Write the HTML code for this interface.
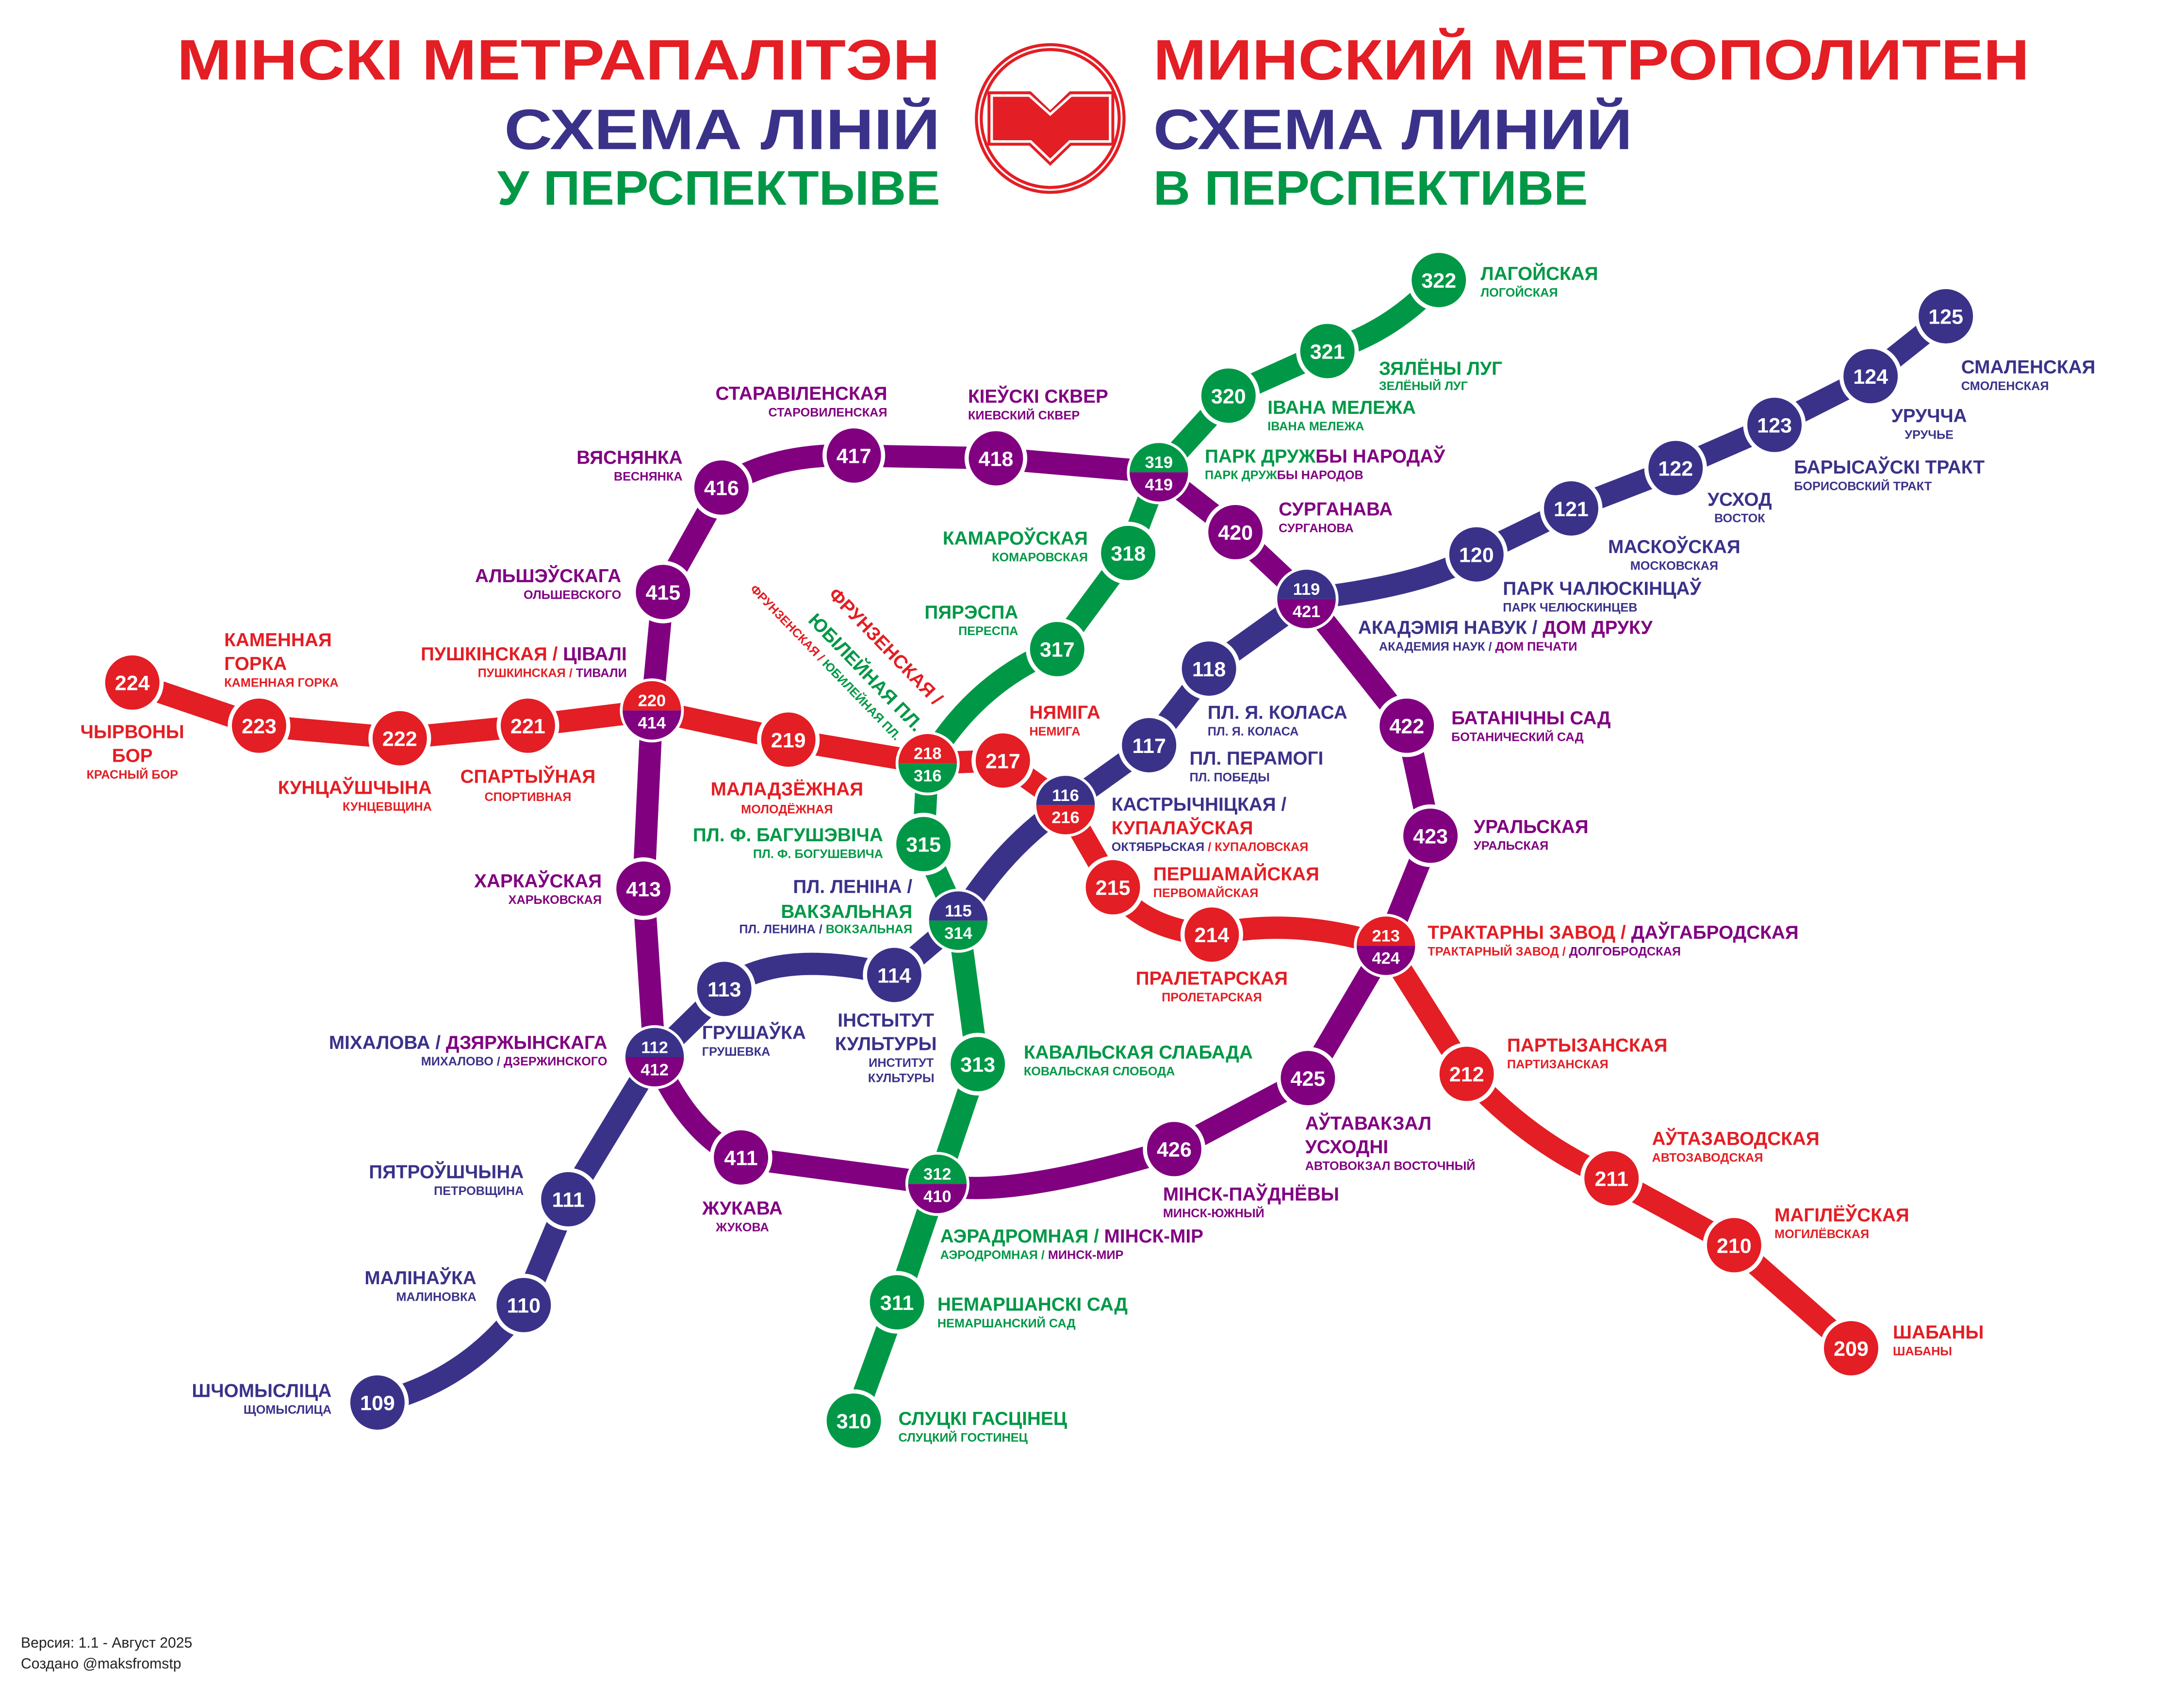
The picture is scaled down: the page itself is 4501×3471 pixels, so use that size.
<!DOCTYPE html>
<html><head><meta charset="utf-8"><style>
html,body{margin:0;padding:0;background:#fff}
svg{display:block}
text{font-family:"Liberation Sans","DejaVu Sans",sans-serif;font-weight:bold}
.n{fill:#fff;text-anchor:middle;font-size:15px}
.d{fill:#fff;text-anchor:middle;font-size:12px}
.m{font-size:13.5px}
.s{font-size:8.8px}
.R{fill:#E31E24}.B{fill:#3A3289}.G{fill:#009846}.P{fill:#800080}
.e{text-anchor:end}.c{text-anchor:middle}
</style></head><body>
<svg width="4501" height="3471" viewBox="0 0 1568 1209" xmlns="http://www.w3.org/2000/svg">
<rect width="1568" height="1209" fill="#fff"/>
<!-- Titles -->
<text x="675" y="57" class="R e" font-size="41" textLength="548" lengthAdjust="spacingAndGlyphs">МІНСКІ МЕТРАПАЛІТЭН</text>
<text x="675" y="107" class="B e" font-size="41" textLength="313" lengthAdjust="spacingAndGlyphs">СХЕМА ЛІНІЙ</text>
<text x="675" y="147" class="G e" font-size="35" textLength="318" lengthAdjust="spacingAndGlyphs">У ПЕРСПЕКТЫВЕ</text>
<text x="828" y="57" class="R" font-size="41" textLength="629" lengthAdjust="spacingAndGlyphs">МИНСКИЙ МЕТРОПОЛИТЕН</text>
<text x="828" y="107" class="B" font-size="41" textLength="344" lengthAdjust="spacingAndGlyphs">СХЕМА ЛИНИЙ</text>
<text x="828" y="147" class="G" font-size="35" textLength="312" lengthAdjust="spacingAndGlyphs">В ПЕРСПЕКТИВЕ</text>
<!-- Logo -->
<g fill="none" stroke="#E31E24" stroke-width="2.2">
<circle cx="754" cy="85" r="53"/><circle cx="754" cy="85" r="49.5"/>
</g>
<path d="M709,65.5 L740,65.5 L754,79 L768,65.5 L800,65.5 L800,104.5 L769,104.5 L754,119 L739,104.5 L709,104.5 Z" fill="#E31E24"/>
<path d="M712,68.5 L739,68.5 L754,82 L769,68.5 L797,68.5 L797,101.5 L768,101.5 L754,115 L740,101.5 L712,101.5 Z" fill="none" stroke="#fff" stroke-width="1.8"/>
<!-- Lines -->
<g fill="none" stroke-width="16" stroke-linecap="round" stroke-linejoin="round">
<path stroke="#800080" d="M673,850 Q720,862 843,825 L939,774 L995,679 L1027,600 L1010,521 L938,430 L887,382 L832,339 L715,329 L613,327 Q555,325 518,350 L476,425 L468,510 L462,638 L470,759 Q495,815 532,831 L673,850"/>
<path stroke="#009846" d="M613,1020 L644,935 L673,850 L702,764 L688,661 L663,606 L666,548 Q700,490 759,466 L810,397 L832,339 L882,284 L953,252 Q1000,238 1033,201"/>
<path stroke="#3A3289" d="M271,1007 Q335,992 376,937 L408,861 L470,759 L520,710 Q560,680 642,700 L688,661 Q720,608 765,578 L825,535 L868,480 L938,430 Q1025,420 1060,398 L1128,365 L1203,336 L1274,305 L1343,270 L1397,227"/>
<path stroke="#E31E24" d="M95,490 L186,521 L287,530 L379,521 L468,510 L566,531 L666,548 L720,546 L765,578 L799,637 Q822,668 870,671 Q930,658 995,679 L1053,771 Q1100,822 1157,846 L1245,894 L1329,968"/>
</g>
<!-- single stations -->
<g stroke="#fff" stroke-width="3">
<g fill="#E31E24">
<circle cx="95" cy="490" r="21"/><circle cx="186" cy="521" r="21"/><circle cx="287" cy="530" r="21"/><circle cx="379" cy="521" r="21"/><circle cx="566" cy="531" r="21"/><circle cx="720" cy="546" r="21"/><circle cx="799" cy="637" r="21"/><circle cx="870" cy="671" r="21"/><circle cx="1053" cy="771" r="21"/><circle cx="1157" cy="846" r="21"/><circle cx="1245" cy="894" r="21"/><circle cx="1329" cy="968" r="21"/>
</g>
<g fill="#3A3289">
<circle cx="271" cy="1007" r="21"/><circle cx="376" cy="937" r="21"/><circle cx="408" cy="861" r="21"/><circle cx="520" cy="710" r="21"/><circle cx="642" cy="700" r="21"/><circle cx="825" cy="535" r="21"/><circle cx="868" cy="480" r="21"/><circle cx="1060" cy="398" r="21"/><circle cx="1128" cy="365" r="21"/><circle cx="1203" cy="336" r="21"/><circle cx="1274" cy="305" r="21"/><circle cx="1343" cy="270" r="21"/><circle cx="1397" cy="227" r="21"/>
</g>
<g fill="#009846">
<circle cx="613" cy="1020" r="21"/><circle cx="644" cy="935" r="21"/><circle cx="702" cy="764" r="21"/><circle cx="663" cy="606" r="21"/><circle cx="759" cy="466" r="21"/><circle cx="810" cy="397" r="21"/><circle cx="882" cy="284" r="21"/><circle cx="953" cy="252" r="21"/><circle cx="1033" cy="201" r="21"/>
</g>
<g fill="#800080">
<circle cx="532" cy="831" r="21"/><circle cx="462" cy="638" r="21"/><circle cx="476" cy="425" r="21"/><circle cx="518" cy="350" r="21"/><circle cx="613" cy="327" r="21"/><circle cx="715" cy="329" r="21"/><circle cx="887" cy="382" r="21"/><circle cx="1010" cy="521" r="21"/><circle cx="1027" cy="600" r="21"/><circle cx="939" cy="774" r="21"/><circle cx="843" cy="825" r="21"/>
</g>
</g>
<!-- interchanges: white ring then halves -->
<g fill="#fff">
<circle cx="468" cy="510" r="23"/><circle cx="666" cy="548" r="23"/><circle cx="765" cy="578" r="23"/><circle cx="688" cy="661" r="23"/><circle cx="832" cy="339" r="23"/><circle cx="938" cy="430" r="23"/><circle cx="995" cy="679" r="23"/><circle cx="470" cy="759" r="23"/><circle cx="673" cy="850" r="23"/>
</g>
<path fill="#E31E24" d="M447,510 A21,21 0 0 1 489,510 Z"/><path fill="#800080" d="M447,510 A21,21 0 0 0 489,510 Z"/>
<path fill="#E31E24" d="M645,548 A21,21 0 0 1 687,548 Z"/><path fill="#009846" d="M645,548 A21,21 0 0 0 687,548 Z"/>
<path fill="#3A3289" d="M744,578 A21,21 0 0 1 786,578 Z"/><path fill="#E31E24" d="M744,578 A21,21 0 0 0 786,578 Z"/>
<path fill="#3A3289" d="M667,661 A21,21 0 0 1 709,661 Z"/><path fill="#009846" d="M667,661 A21,21 0 0 0 709,661 Z"/>
<path fill="#009846" d="M811,339 A21,21 0 0 1 853,339 Z"/><path fill="#800080" d="M811,339 A21,21 0 0 0 853,339 Z"/>
<path fill="#3A3289" d="M917,430 A21,21 0 0 1 959,430 Z"/><path fill="#800080" d="M917,430 A21,21 0 0 0 959,430 Z"/>
<path fill="#E31E24" d="M974,679 A21,21 0 0 1 1016,679 Z"/><path fill="#800080" d="M974,679 A21,21 0 0 0 1016,679 Z"/>
<path fill="#3A3289" d="M449,759 A21,21 0 0 1 491,759 Z"/><path fill="#800080" d="M449,759 A21,21 0 0 0 491,759 Z"/>
<path fill="#009846" d="M652,850 A21,21 0 0 1 694,850 Z"/><path fill="#800080" d="M652,850 A21,21 0 0 0 694,850 Z"/>
<!-- numbers -->
<g class="n">
<text x="95" y="495.5" class="n">224</text><text x="186" y="526.5" class="n">223</text><text x="287" y="535.5" class="n">222</text><text x="379" y="526.5" class="n">221</text><text x="566" y="536.5" class="n">219</text><text x="720" y="551.5" class="n">217</text><text x="799" y="642.5" class="n">215</text><text x="870" y="676.5" class="n">214</text><text x="1053" y="776.5" class="n">212</text><text x="1157" y="851.5" class="n">211</text><text x="1245" y="899.5" class="n">210</text><text x="1329" y="973.5" class="n">209</text>
<text x="271" y="1012.5" class="n">109</text><text x="376" y="942.5" class="n">110</text><text x="408" y="866.5" class="n">111</text><text x="520" y="715.5" class="n">113</text><text x="642" y="705.5" class="n">114</text><text x="825" y="540.5" class="n">117</text><text x="868" y="485.5" class="n">118</text><text x="1060" y="403.5" class="n">120</text><text x="1128" y="370.5" class="n">121</text><text x="1203" y="341.5" class="n">122</text><text x="1274" y="310.5" class="n">123</text><text x="1343" y="275.5" class="n">124</text><text x="1397" y="232.5" class="n">125</text>
<text x="613" y="1025.5" class="n">310</text><text x="644" y="940.5" class="n">311</text><text x="702" y="769.5" class="n">313</text><text x="663" y="611.5" class="n">315</text><text x="759" y="471.5" class="n">317</text><text x="810" y="402.5" class="n">318</text><text x="882" y="289.5" class="n">320</text><text x="953" y="257.5" class="n">321</text><text x="1033" y="206.5" class="n">322</text>
<text x="532" y="836.5" class="n">411</text><text x="462" y="643.5" class="n">413</text><text x="476" y="430.5" class="n">415</text><text x="518" y="355.5" class="n">416</text><text x="613" y="332.5" class="n">417</text><text x="715" y="334.5" class="n">418</text><text x="887" y="387.5" class="n">420</text><text x="1010" y="526.5" class="n">422</text><text x="1027" y="605.5" class="n">423</text><text x="939" y="779.5" class="n">425</text><text x="843" y="830.5" class="n">426</text>
</g>
<g>
<text x="468" y="507" class="d">220</text><text x="468" y="523" class="d">414</text>
<text x="666" y="545" class="d">218</text><text x="666" y="561" class="d">316</text>
<text x="765" y="575" class="d">116</text><text x="765" y="591" class="d">216</text>
<text x="688" y="658" class="d">115</text><text x="688" y="674" class="d">314</text>
<text x="832" y="336" class="d">319</text><text x="832" y="352" class="d">419</text>
<text x="938" y="427" class="d">119</text><text x="938" y="443" class="d">421</text>
<text x="995" y="676" class="d">213</text><text x="995" y="692" class="d">424</text>
<text x="470" y="756" class="d">112</text><text x="470" y="772" class="d">412</text>
<text x="673" y="847" class="d">312</text><text x="673" y="863" class="d">410</text>
</g>
<!-- Labels -->
<g class="G">
<text x="1063" y="201" class="m">ЛАГОЙСКАЯ</text><text x="1063" y="213" class="s">ЛОГОЙСКАЯ</text>
<text x="990" y="269" class="m">ЗЯЛЁНЫ ЛУГ</text><text x="990" y="280" class="s">ЗЕЛЁНЫЙ ЛУГ</text>
<text x="910" y="297" class="m">ІВАНА МЕЛЕЖА</text><text x="910" y="309" class="s">ІВАНА МЕЛЕЖА</text>
<text x="781" y="391" class="m e">КАМАРОЎСКАЯ</text><text x="781" y="403" class="s e">КОМАРОВСКАЯ</text>
<text x="731" y="444" class="m e">ПЯРЭСПА</text><text x="731" y="456" class="s e">ПЕРЕСПА</text>
<text x="634" y="604" class="m e">ПЛ. Ф. БАГУШЭВІЧА</text><text x="634" y="616" class="s e">ПЛ. Ф. БОГУШЕВИЧА</text>
<text x="735" y="760" class="m">КАВАЛЬСКАЯ СЛАБАДА</text><text x="735" y="772" class="s">КОВАЛЬСКАЯ СЛОБОДА</text>
<text x="673" y="941" class="m">НЕМАРШАНСКІ САД</text><text x="673" y="953" class="s">НЕМАРШАНСКИЙ САД</text>
<text x="645" y="1023" class="m">СЛУЦКІ ГАСЦІНЕЦ</text><text x="645" y="1035" class="s">СЛУЦКИЙ ГОСТИНЕЦ</text>
</g>
<text x="865" y="332" class="m"><tspan class="G">ПАРК ДРУЖ</tspan><tspan class="P">БЫ НАРОДАЎ</tspan></text>
<text x="865" y="344" class="s"><tspan class="G">ПАРК ДРУЖ</tspan><tspan class="P">БЫ НАРОДОВ</tspan></text>
<text x="675" y="892" class="m"><tspan class="G">АЭРАДРОМНАЯ / </tspan><tspan class="P">МІНСК-МІР</tspan></text>
<text x="675" y="904" class="s"><tspan class="G">АЭРОДРОМНАЯ / </tspan><tspan class="P">МИНСК-МИР</tspan></text>
<g class="P">
<text x="918" y="370" class="m">СУРГАНАВА</text><text x="918" y="382" class="s">СУРГАНОВА</text>
<text x="637" y="287" class="m e">СТАРАВІЛЕНСКАЯ</text><text x="637" y="299" class="s e">СТАРОВИЛЕНСКАЯ</text>
<text x="695" y="289" class="m">КІЕЎСКІ СКВЕР</text><text x="695" y="301" class="s">КИЕВСКИЙ СКВЕР</text>
<text x="490" y="333" class="m e">ВЯСНЯНКА</text><text x="490" y="345" class="s e">ВЕСНЯНКА</text>
<text x="446" y="418" class="m e">АЛЬШЭЎСКАГА</text><text x="446" y="430" class="s e">ОЛЬШЕВСКОГО</text>
<text x="432" y="637" class="m e">ХАРКАЎСКАЯ</text><text x="432" y="649" class="s e">ХАРЬКОВСКАЯ</text>
<text x="1042" y="520" class="m">БАТАНІЧНЫ САД</text><text x="1042" y="532" class="s">БОТАНИЧЕСКИЙ САД</text>
<text x="1058" y="598" class="m">УРАЛЬСКАЯ</text><text x="1058" y="610" class="s">УРАЛЬСКАЯ</text>
<text x="533" y="872" class="m c">ЖУКАВА</text><text x="533" y="884" class="s c">ЖУКОВА</text>
<text x="937" y="811" class="m">АЎТАВАКЗАЛ</text><text x="937" y="828" class="m">УСХОДНІ</text><text x="937" y="840" class="s">АВТОВОКЗАЛ ВОСТОЧНЫЙ</text>
<text x="835" y="862" class="m">МІНСК-ПАЎДНЁВЫ</text><text x="835" y="874" class="s">МИНСК-ЮЖНЫЙ</text>
</g>
<g class="R">
<text x="161" y="464" class="m">КАМЕННАЯ</text><text x="161" y="481" class="m">ГОРКА</text><text x="161" y="493" class="s">КАМЕННАЯ ГОРКА</text>
<text x="95" y="530" class="m c">ЧЫРВОНЫ</text><text x="95" y="547" class="m c">БОР</text><text x="95" y="559" class="s c">КРАСНЫЙ БОР</text>
<text x="310" y="570" class="m e">КУНЦАЎШЧЫНА</text><text x="310" y="582" class="s e">КУНЦЕВЩИНА</text>
<text x="379" y="562" class="m c">СПАРТЫЎНАЯ</text><text x="379" y="575" class="s c">СПОРТИВНАЯ</text>
<text x="565" y="571" class="m c">МАЛАДЗЁЖНАЯ</text><text x="565" y="584" class="s c">МОЛОДЁЖНАЯ</text>
<text x="739" y="516" class="m">НЯМІГА</text><text x="739" y="528" class="s">НЕМИГА</text>
<text x="828" y="632" class="m">ПЕРШАМАЙСКАЯ</text><text x="828" y="644" class="s">ПЕРВОМАЙСКАЯ</text>
<text x="870" y="707" class="m c">ПРАЛЕТАРСКАЯ</text><text x="870" y="719" class="s c">ПРОЛЕТАРСКАЯ</text>
<text x="1082" y="755" class="m">ПАРТЫЗАНСКАЯ</text><text x="1082" y="767" class="s">ПАРТИЗАНСКАЯ</text>
<text x="1186" y="822" class="m">АЎТАЗАВОДСКАЯ</text><text x="1186" y="834" class="s">АВТОЗАВОДСКАЯ</text>
<text x="1274" y="877" class="m">МАГІЛЁЎСКАЯ</text><text x="1274" y="889" class="s">МОГИЛЁВСКАЯ</text>
<text x="1359" y="961" class="m">ШАБАНЫ</text><text x="1359" y="973" class="s">ШАБАНЫ</text>
</g>
<text x="450" y="474" class="m e"><tspan class="R">ПУШКІНСКАЯ / </tspan><tspan class="P">ЦІВАЛІ</tspan></text>
<text x="450" y="486" class="s e"><tspan class="R">ПУШКИНСКАЯ / </tspan><tspan class="P">ТИВАЛИ</tspan></text>
<text x="1025" y="674" class="m"><tspan class="R">ТРАКТАРНЫ ЗАВОД / </tspan><tspan class="P">ДАЎГАБРОДСКАЯ</tspan></text>
<text x="1025" y="686" class="s"><tspan class="R">ТРАКТАРНЫЙ ЗАВОД / </tspan><tspan class="P">ДОЛГОБРОДСКАЯ</tspan></text>
<text x="798" y="582" class="m B">КАСТРЫЧНІЦКАЯ /</text><text x="798" y="599" class="m R">КУПАЛАЎСКАЯ</text>
<text x="798" y="611" class="s"><tspan class="B">ОКТЯБРЬСКАЯ </tspan><tspan class="R">/ КУПАЛОВСКАЯ</tspan></text>
<text x="655" y="641" class="m e B">ПЛ. ЛЕНІНА /</text><text x="655" y="659" class="m e G">ВАКЗАЛЬНАЯ</text>
<text x="655" y="670" class="s e"><tspan class="B">ПЛ. ЛЕНИНА / </tspan><tspan class="G">ВОКЗАЛЬНАЯ</tspan></text>
<text x="436" y="753" class="m e"><tspan class="B">МІХАЛОВА / </tspan><tspan class="P">ДЗЯРЖЫНСКАГА</tspan></text>
<text x="436" y="765" class="s e"><tspan class="B">МИХАЛОВО / </tspan><tspan class="P">ДЗЕРЖИНСКОГО</tspan></text>
<text x="975" y="455" class="m"><tspan class="B">АКАДЭМІЯ НАВУК / </tspan><tspan class="P">ДОМ ДРУКУ</tspan></text>
<text x="990" y="467" class="s"><tspan class="B">АКАДЕМИЯ НАУК / </tspan><tspan class="P">ДОМ ПЕЧАТИ</tspan></text>
<g class="B">
<text x="867" y="516" class="m">ПЛ. Я. КОЛАСА</text><text x="867" y="528" class="s">ПЛ. Я. КОЛАСА</text>
<text x="854" y="549" class="m">ПЛ. ПЕРАМОГІ</text><text x="854" y="561" class="s">ПЛ. ПОБЕДЫ</text>
<text x="1079" y="427" class="m">ПАРК ЧАЛЮСКІНЦАЎ</text><text x="1079" y="439" class="s">ПАРК ЧЕЛЮСКИНЦЕВ</text>
<text x="1202" y="397" class="m c">МАСКОЎСКАЯ</text><text x="1202" y="409" class="s c">МОСКОВСКАЯ</text>
<text x="1249" y="363" class="m c">УСХОД</text><text x="1249" y="375" class="s c">ВОСТОК</text>
<text x="1288" y="340" class="m">БАРЫСАЎСКІ ТРАКТ</text><text x="1288" y="352" class="s">БОРИСОВСКИЙ ТРАКТ</text>
<text x="1385" y="303" class="m c">УРУЧЧА</text><text x="1385" y="315" class="s c">УРУЧЬЕ</text>
<text x="1408" y="268" class="m">СМАЛЕНСКАЯ</text><text x="1408" y="280" class="s">СМОЛЕНСКАЯ</text>
<text x="636" y="737" class="m c">ІНСТЫТУТ</text><text x="636" y="754" class="m c">КУЛЬТУРЫ</text>
<text x="647" y="766" class="s c">ИНСТИТУТ</text><text x="647" y="777" class="s c">КУЛЬТУРЫ</text>
<text x="504" y="746" class="m">ГРУШАЎКА</text><text x="504" y="758" class="s">ГРУШЕВКА</text>
<text x="376" y="846" class="m e">ПЯТРОЎШЧЫНА</text><text x="376" y="858" class="s e">ПЕТРОВЩИНА</text>
<text x="342" y="922" class="m e">МАЛІНАЎКА</text><text x="342" y="934" class="s e">МАЛИНОВКА</text>
<text x="238" y="1003" class="m e">ШЧОМЫСЛІЦА</text><text x="238" y="1015" class="s e">ЩОМЫСЛИЦА</text>
</g>
<!-- rotated Frunzenskaya -->
<text transform="translate(671,507) rotate(46)" class="R e" font-size="13.5">ФРУНЗЕНСКАЯ /</text>
<text transform="translate(657,526) rotate(46)" class="G e" font-size="13.5">ЮБІЛЕЙНАЯ ПЛ.</text>
<text transform="translate(643,532) rotate(46)" class="e" font-size="8.8"><tspan class="R">ФРУНЗЕНСКАЯ / </tspan><tspan class="G">ЮБИЛЕЙНАЯ ПЛ.</tspan></text>
<!-- footer -->
<text x="15" y="1183" font-size="10.5" font-weight="normal" style="font-weight:normal" fill="#222">Версия: 1.1 - Август 2025</text>
<text x="15" y="1198" font-size="10.5" style="font-weight:normal" fill="#222">Создано @maksfromstp</text>
</svg>
</body></html>
